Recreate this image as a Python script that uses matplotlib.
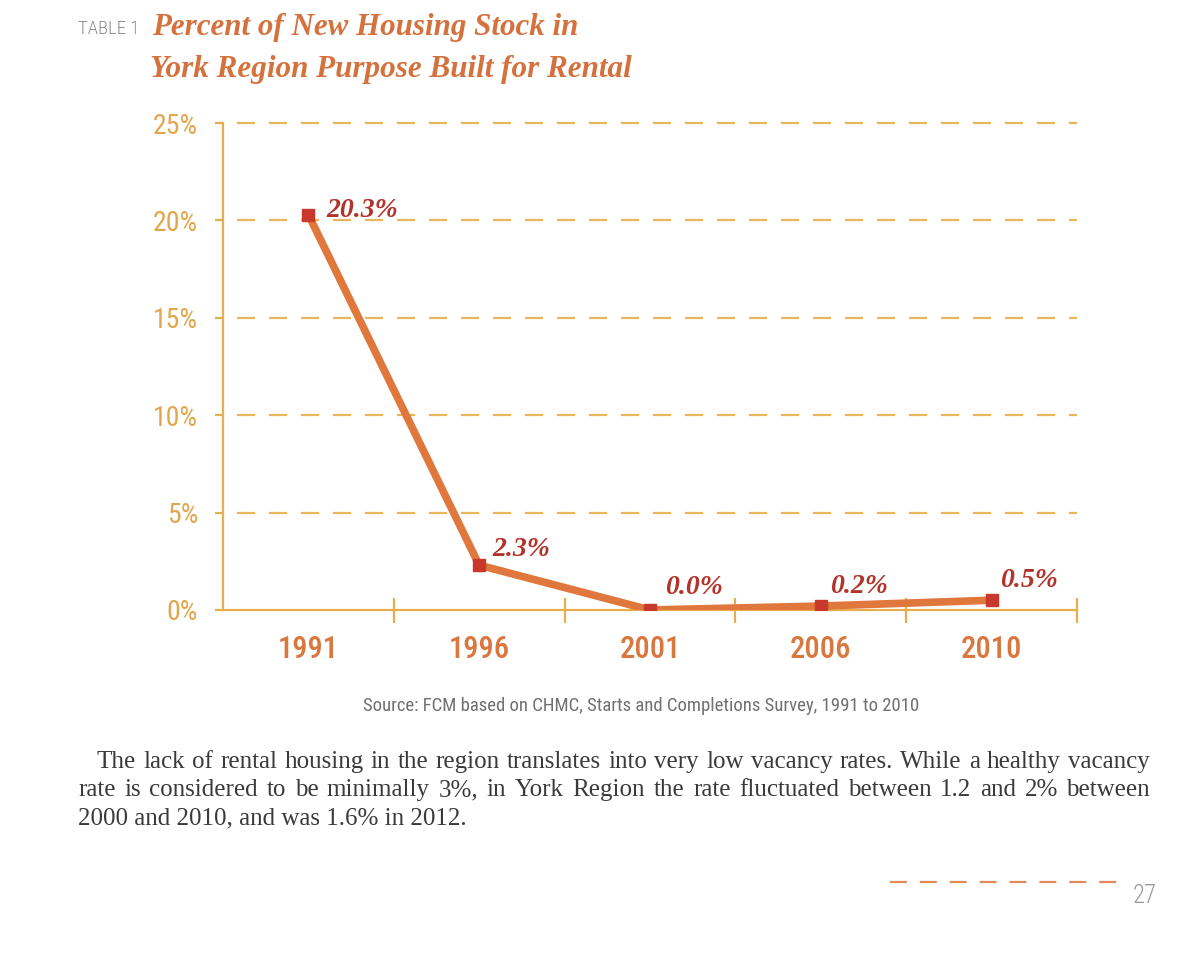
import os
import matplotlib
matplotlib.use("Agg")
import matplotlib.pyplot as plt
from matplotlib import font_manager
from matplotlib.font_manager import FontProperties

years = ['1991', '1996', '2001', '2006', '2010']
share = [20.3, 2.3, 0.0, 0.2, 0.5]
value_labels = ['20.3%', '2.3%', '0.0%', '0.2%', '0.5%']
y_ticks = [0, 5, 10, 15, 20, 25]

GOLD = '#E6AE4E'
ORANGE = '#E0773C'
RED = '#C8392B'
LABEL_RED = '#B2332A'


def find_font(keys):
    files = [f.fname for f in font_manager.fontManager.ttflist]
    for key in keys:
        for fn in files:
            if os.path.basename(fn).lower().replace('-', '').replace('_', '') == key:
                return FontProperties(fname=fn)
    return None


narrow = find_font(['robotocondensedregular.ttf', 'liberationsansnarrowregular.ttf',
                    'dejavusanscondensed.ttf'])
medium = find_font(['robotocondensedmedium.ttf', 'robotocondensedregular.ttf'])
light = find_font(['robotocondensedlight.ttf', 'robotolight.ttf'])
if narrow is None:
    narrow = FontProperties(family='DejaVu Sans')
if medium is None:
    medium = narrow
if light is None:
    light = narrow


def fp(base, size):
    p = base.copy()
    p.set_size(size)
    return p


fig = plt.figure(figsize=(12, 9.55), dpi=100)
ax = fig.add_axes([0.1858, 0.3613, 0.7117, 0.5099])

x = list(range(len(years)))
ax.plot(x, share, color=ORANGE, lw=5.5, solid_joinstyle='miter', zorder=3)
ax.plot(x, share, ls='none', marker='s', ms=9, color=RED, zorder=4)

# label offsets in points (dx, dy)
offsets = [(13, 3), (9.5, 11), (11, 16.5), (6.5, 14), (6, 14.5)]
for xi, v, lab, off in zip(x, share, value_labels, offsets):
    ax.annotate(lab, (xi, v), xytext=off, textcoords='offset points',
                ha='left', va='center',
                color=LABEL_RED, fontsize=20, fontstyle='italic', fontweight='bold',
                family='Liberation Serif', zorder=5)

ax.set_xlim(-0.5, len(years) - 0.5)
ax.set_ylim(0, 25)
ax.set_yticks(y_ticks)
ax.set_yticklabels([f'{t}%' for t in y_ticks])
ax.set_xticks([i + 0.5 for i in x])
ax.set_xticklabels([])
ax.set_xticks(x, minor=True)
ax.set_xticklabels(years, minor=True)

for t in y_ticks[1:]:
    ax.axhline(t, color='#E9B65C', lw=1.6, ls=(8.1, (8.1, 6.3)), zorder=1, clip_on=False)

for s in ['top', 'right']:
    ax.spines[s].set_visible(False)
for s in ['left', 'bottom']:
    ax.spines[s].set_color(GOLD)
    ax.spines[s].set_linewidth(1.6)

ax.tick_params(axis='y', colors=GOLD, labelcolor='#E2A64C', length=6, width=1.6, pad=12)
ax.tick_params(axis='x', which='major', direction='inout', length=18, width=1.6, color=GOLD)
ax.tick_params(axis='x', which='minor', length=0, pad=18, labelcolor='#D9773F')
for lab in ax.get_yticklabels():
    lab.set_fontproperties(fp(narrow, 20))
    lab.set_va('center_baseline')
for lab in ax.get_xticklabels(minor=True):
    lab.set_fontproperties(fp(medium, 22))


def px(xp, yp):
    return xp / 1200, 1 - yp / 955


fig.canvas.draw()
renderer = fig.canvas.get_renderer()


def fit(artist, width):
    w = artist.get_window_extent(renderer).width
    artist.set_fontsize(artist.get_fontsize() * width / w)


fig.text(*px(78, 29), 'TABLE 1', color='#8a8a8a', fontproperties=fp(light, 13.5),
         va='center', ha='left')
t = fig.text(*px(152, 28), 'Percent of New Housing Stock in', color='#D4713D', fontsize=22,
             fontstyle='italic', fontweight='bold', family='Liberation Serif', va='center')
fit(t, 425)
t = fig.text(*px(150, 70), 'York Region Purpose Built for Rental', color='#D4713D', fontsize=22,
             fontstyle='italic', fontweight='bold', family='Liberation Serif', va='center')
fit(t, 482)

t = fig.text(*px(641, 706), 'Source: FCM based on CHMC, Starts and Completions Survey, 1991 to 2010',
             color='#707070', fontproperties=fp(narrow, 12), ha='center', va='center')
fit(t, 554)

para = [
    (97, 762, 'The lack of rental housing in the region translates into very low vacancy rates.  While a healthy vacancy', True),
    (78, 790, 'rate is considered to be minimally 3%, in York Region the rate fluctuated between 1.2 and 2% between', True),
    (78, 818, '2000 and 2010, and was 1.6% in 2012.', False),
]
right_edge = 1150
for x0, y0, line, justify in para:
    words = line.split()
    if not justify:
        fig.text(*px(x0, y0), line, color='#3a3a3a', fontsize=18, family='Liberation Serif', va='center')
        continue
    arts = [fig.text(0, 1 - y0 / 955, w, color='#3a3a3a', fontsize=18,
                     family='Liberation Serif', va='center') for w in words]
    widths = [a.get_window_extent(renderer).width for a in arts]
    gap = (right_edge - x0 - sum(widths)) / (len(words) - 1)
    cur = x0
    for a, w in zip(arts, widths):
        a.set_x(cur / 1200)
        cur += w + gap

fig.add_artist(plt.Line2D([890 / 1200, 1117 / 1200], [1 - 882 / 955] * 2,
                          color='#E08A5A', lw=1.6, ls=(0, (7.6, 5.85))))
t = fig.text(*px(1133, 896), '27', color='#9a9a9a', fontproperties=fp(light, 20), va='center')
fit(t, 24)

fig.savefig('out.png', dpi=100)
